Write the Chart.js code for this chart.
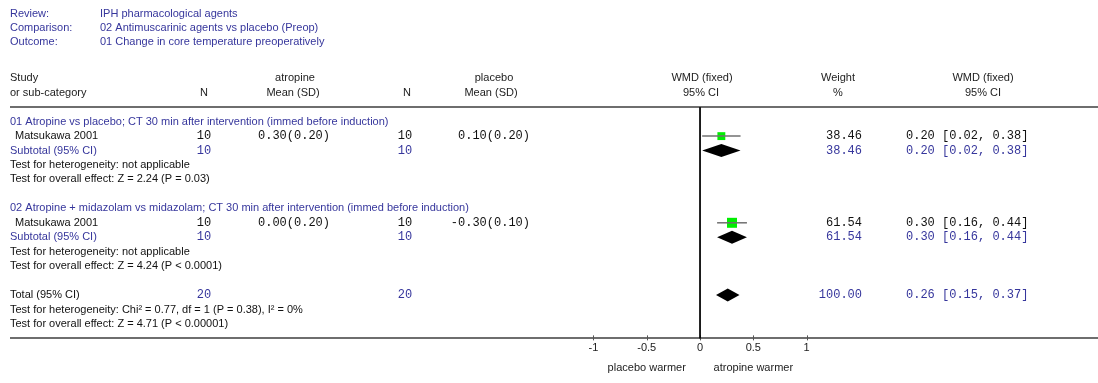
<!DOCTYPE html>
<html>
<head>
<meta charset="utf-8">
<script src="https://cdn.jsdelivr.net/npm/chart.js@4.4.0/dist/chart.umd.min.js"></script>
<style>
  html, body { margin: 0; padding: 0; background: #fff; }
  #wrap { width: 1098px; height: 383px; position: relative; }
</style>
</head>
<body>
<div id="wrap"><canvas id="forestChart"></canvas></div>
<script>
const titleKeys = ['Review:', 'Comparison:', 'Outcome:'];
const titleValues = ['IPH pharmacological agents', '02 Antimuscarinic agents vs placebo (Preop)', '01 Change in core temperature preoperatively'];

const groupNames = [
    '01 Atropine vs placebo; CT 30 min after intervention (immed before induction)',
    '02 Atropine + midazolam vs midazolam; CT 30 min after intervention (immed before induction)'
];
const studyNames = ['Matsukawa 2001', 'Matsukawa 2001'];
const treatN = [10, 10];
const treatMean = [0.30, 0.00];
const treatSD = [0.20, 0.20];
const ctrlN = [10, 10];
const ctrlMean = [0.10, -0.30];
const ctrlSD = [0.20, 0.10];
const studyWMD = [0.20, 0.30];
const studyLow = [0.02, 0.16];
const studyHigh = [0.38, 0.44];
const studyWeight = [38.46, 61.54];

const subtotalWMD = [0.20, 0.30];
const subtotalLow = [0.02, 0.16];
const subtotalHigh = [0.38, 0.44];
const subtotalWeight = [38.46, 61.54];
const hetTexts = ['Test for heterogeneity: not applicable', 'Test for heterogeneity: not applicable'];
const effectTexts = ['Test for overall effect: Z = 2.24 (P = 0.03)', 'Test for overall effect: Z = 4.24 (P < 0.0001)'];

const totalN = [20, 20];
const totalWMD = [0.26];
const totalLow = [0.15];
const totalHigh = [0.37];
const totalWeight = [100.00];
const totalHet = 'Test for heterogeneity: Chi\u00b2 = 0.77, df = 1 (P = 0.38), I\u00b2 = 0%';
const totalEffect = 'Test for overall effect: Z = 4.71 (P < 0.00001)';

const tickValues = [-1, -0.5, 0, 0.5, 1];
const favourLabels = ['placebo warmer', 'atropine warmer'];

// row layout (one row = 15px)
const studyRows = [1, 7];
const subtotalRows = [2, 8];
const totalRow = 12;
const axisRow = 15;

const BLUE = '#36369c';
const SANS = '11px "Liberation Sans", Arial, sans-serif';
const MONO = '12px "Liberation Mono", "Courier New", monospace';

function ciText(m, lo, hi) {
    return m.toFixed(2) + ' [' + lo.toFixed(2) + ', ' + hi.toFixed(2) + ']';
}
function msd(m, sd) {
    return m.toFixed(2) + '(' + sd.toFixed(2) + ')';
}

const forestPlugin = {
    id: 'forest',
    beforeDatasetsDraw(chart) {
        const ctx = chart.ctx;
        const x = chart.scales.x, y = chart.scales.y;
        ctx.save();
        ctx.strokeStyle = '#6e6e6e';
        ctx.lineWidth = 2;
        [-1, axisRow].forEach(r => {
            const py = Math.round(y.getPixelForValue(r));
            ctx.beginPath();
            ctx.moveTo(10, py);
            ctx.lineTo(1098, py);
            ctx.stroke();
        });
        const ay = y.getPixelForValue(axisRow);
        ctx.lineWidth = 1;
        ctx.strokeStyle = '#555';
        tickValues.forEach(v => {
            const px = Math.round(x.getPixelForValue(v)) + 0.5;
            ctx.beginPath();
            ctx.moveTo(px, ay - 3);
            ctx.lineTo(px, ay + 2);
            ctx.stroke();
        });
        ctx.restore();
    },
    afterDatasetsDraw(chart) {
        const ctx = chart.ctx;
        const x = chart.scales.x, y = chart.scales.y;
        const Y = r => y.getPixelForValue(r);
        const txt = (s, px, py, color, align, font) => {
            ctx.fillStyle = color;
            ctx.textAlign = align;
            ctx.font = font || SANS;
            ctx.fillText(s, px, py);
        };
        ctx.save();
        ctx.textBaseline = 'middle';

        // title block
        titleKeys.forEach((k, i) => {
            txt(k, 10, 14 + i * 14, BLUE, 'left');
            txt(titleValues[i], 100, 14 + i * 14, BLUE, 'left');
        });

        // column headers
        const h1 = Y(-3), h2 = Y(-2);
        txt('Study', 10, h1, '#222', 'left');
        txt('or sub-category', 10, h2, '#222', 'left');
        txt('atropine', 295, h1, '#222', 'center');
        txt('N', 204, h2, '#222', 'center');
        txt('Mean (SD)', 293, h2, '#222', 'center');
        txt('placebo', 494, h1, '#222', 'center');
        txt('N', 407, h2, '#222', 'center');
        txt('Mean (SD)', 491, h2, '#222', 'center');
        txt('WMD (fixed)', 702, h1, '#222', 'center');
        txt('95% CI', 701, h2, '#222', 'center');
        txt('Weight', 838, h1, '#222', 'center');
        txt('%', 838, h2, '#222', 'center');
        txt('WMD (fixed)', 983, h1, '#222', 'center');
        txt('95% CI', 983, h2, '#222', 'center');

        // groups
        groupNames.forEach((g, i) => {
            const sr = studyRows[i], tr = subtotalRows[i];
            txt(g, 10, Y(sr - 1), BLUE, 'left');
            txt(studyNames[i], 15, Y(sr), '#111', 'left');
            txt(String(treatN[i]), 204, Y(sr), '#111', 'center', MONO);
            txt(msd(treatMean[i], treatSD[i]), 330, Y(sr), '#111', 'right', MONO);
            txt(String(ctrlN[i]), 405, Y(sr), '#111', 'center', MONO);
            txt(msd(ctrlMean[i], ctrlSD[i]), 530, Y(sr), '#111', 'right', MONO);
            txt(studyWeight[i].toFixed(2), 862, Y(sr), '#111', 'right', MONO);
            txt(ciText(studyWMD[i], studyLow[i], studyHigh[i]), 906, Y(sr), '#111', 'left', MONO);

            txt('Subtotal (95% CI)', 10, Y(tr), BLUE, 'left');
            txt(String(treatN[i]), 204, Y(tr), BLUE, 'center', MONO);
            txt(String(ctrlN[i]), 405, Y(tr), BLUE, 'center', MONO);
            txt(subtotalWeight[i].toFixed(2), 862, Y(tr), BLUE, 'right', MONO);
            txt(ciText(subtotalWMD[i], subtotalLow[i], subtotalHigh[i]), 906, Y(tr), BLUE, 'left', MONO);
            txt(hetTexts[i], 10, Y(tr + 1), '#111', 'left');
            txt(effectTexts[i], 10, Y(tr + 2), '#111', 'left');
        });

        // total
        txt('Total (95% CI)', 10, Y(totalRow), '#111', 'left');
        txt(String(totalN[0]), 204, Y(totalRow), BLUE, 'center', MONO);
        txt(String(totalN[1]), 405, Y(totalRow), BLUE, 'center', MONO);
        txt(totalWeight[0].toFixed(2), 862, Y(totalRow), BLUE, 'right', MONO);
        txt(ciText(totalWMD[0], totalLow[0], totalHigh[0]), 906, Y(totalRow), BLUE, 'left', MONO);
        txt(totalHet, 10, Y(totalRow + 1), '#111', 'left');
        txt(totalEffect, 10, Y(totalRow + 2), '#111', 'left');

        // pooled diamonds
        const diamonds = [];
        subtotalRows.forEach((r, i) => diamonds.push([r, subtotalWMD[i], subtotalLow[i], subtotalHigh[i]]));
        diamonds.push([totalRow, totalWMD[0], totalLow[0], totalHigh[0]]);
        ctx.fillStyle = '#000';
        diamonds.forEach(d => {
            const py = Y(d[0]);
            ctx.beginPath();
            ctx.moveTo(x.getPixelForValue(d[2]), py);
            ctx.lineTo(x.getPixelForValue(d[1]), py - 6.5);
            ctx.lineTo(x.getPixelForValue(d[3]), py);
            ctx.lineTo(x.getPixelForValue(d[1]), py + 6.5);
            ctx.closePath();
            ctx.fill();
        });

        // axis labels
        const ty = Y(axisRow) + 10;
        tickValues.forEach(v => txt(String(v), x.getPixelForValue(v), ty, '#222', 'center'));
        txt(favourLabels[0], x.getPixelForValue(-0.5), Y(axisRow) + 30, '#222', 'center');
        txt(favourLabels[1], x.getPixelForValue(0.5), Y(axisRow) + 30, '#222', 'center');
        ctx.restore();
    }
};

const datasets = [];
// line of no effect
datasets.push({
    data: [{ x: 0, y: -1 }, { x: 0, y: axisRow }],
    showLine: true, borderColor: '#000', borderWidth: 1, pointRadius: 0
});
// confidence intervals
studyRows.forEach((r, i) => {
    datasets.push({
        data: [{ x: studyLow[i], y: r }, { x: studyHigh[i], y: r }],
        showLine: true, borderColor: '#707070', borderWidth: 1.5, pointRadius: 0
    });
});
// study point estimates
datasets.push({
    data: studyRows.map((r, i) => ({ x: studyWMD[i], y: r })),
    pointStyle: 'rect',
    pointRadius: studyWeight.map(w => Math.sqrt(w) * 0.9),
    backgroundColor: '#00ee00',
    borderWidth: 0
});

new Chart(document.getElementById('forestChart'), {
    type: 'scatter',
    data: { datasets: datasets },
    options: {
        responsive: true,
        maintainAspectRatio: false,
        animation: false,
        layout: { padding: 0 },
        scales: {
            x: { type: 'linear', display: false, min: -6.5, max: 396 / 108 },
            y: { type: 'linear', display: false, reverse: true, min: -119 / 15, max: 264 / 15 }
        },
        plugins: {
            legend: { display: false },
            tooltip: { enabled: false }
        }
    },
    plugins: [forestPlugin]
});
</script>
</body>
</html>
